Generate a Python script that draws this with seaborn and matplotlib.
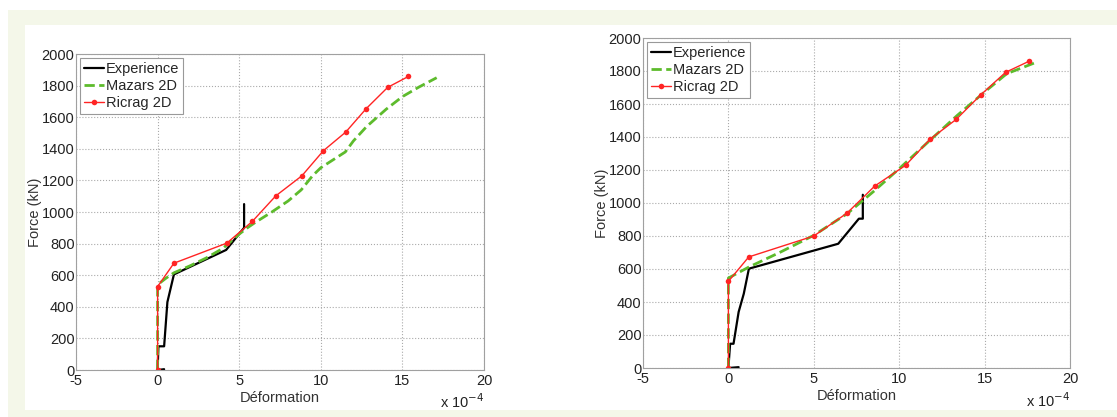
import numpy as np
import pandas as pd
import seaborn as sns
import matplotlib.pyplot as plt
from matplotlib.patches import Rectangle

# courbes force / deformation (deformation en unites de 1e-4)
exp_left_x = [0.4, 0.0, 0.05, 0.4, 0.6, 1.0, 4.2, 5.3, 5.3]
exp_left_y = [5, 0, 150, 150, 430, 605, 760, 900, 1050]
maz_left_x = [0.0, 0.0, 0.5, 1.0, 2.0, 3.0, 4.0, 5.0, 5.5, 6.0, 7.0, 8.0, 8.8, 9.5, 10.0, 11.5, 12.0, 12.8, 14.0, 15.0, 16.0, 17.1]
maz_left_y = [0, 540, 580, 615, 660, 710, 770, 860, 900, 935, 1000, 1070, 1140, 1230, 1280, 1380, 1450, 1540, 1650, 1730, 1790, 1850]
ric_left_x = [0.0, 0.0, 1.0, 4.24, 5.8, 7.24, 8.84, 10.16, 11.53, 12.78, 14.1, 15.37]
ric_left_y = [0, 528, 676, 803, 940, 1102, 1229, 1388, 1506, 1654, 1789, 1858]

exp_right_x = [0.6, 0.0, 0.1, 0.3, 0.6, 0.9, 1.2, 6.43, 7.64, 7.87, 7.87]
exp_right_y = [5, 0, 147, 147, 340, 450, 602, 753, 905, 905, 1050]
maz_right_x = [0.0, 0.0, 1.2, 3.0, 5.0, 6.95, 8.5, 10.0, 11.8, 13.4, 15.0, 16.3, 17.9]
maz_right_y = [0, 545, 612, 700, 804, 935, 1070, 1208, 1380, 1531, 1673, 1784, 1848]
ric_right_x = [0.0, 0.0, 1.19, 5.0, 6.95, 8.57, 10.37, 11.8, 13.34, 14.77, 16.23, 17.6]
ric_right_y = [0, 525, 673, 800, 939, 1103, 1228, 1386, 1507, 1655, 1792, 1859]

xticks = [-5, 0, 5, 10, 15, 20]
yticks = list(range(0, 2001, 200))

sns.set_style('white')
plt.rcParams['font.family'] = ['Liberation Sans', 'DejaVu Sans']
plt.rcParams['axes.unicode_minus'] = False
fs = 10.5

fig = plt.figure(figsize=(11.17, 4.17), dpi=100)
fig.patch.set_facecolor('white')
W, H = 1117, 417
# cadre creme autour de la figure (derriere les axes)
fig.patches.append(Rectangle((8 / W, 0), 1, 407 / H, transform=fig.transFigure,
                             facecolor='#f4f7e9', edgecolor='none', zorder=-10))
fig.patches.append(Rectangle((25 / W, 7 / H), 1, 385 / H, transform=fig.transFigure,
                             facecolor='white', edgecolor='none', zorder=-9))

ax1 = fig.add_axes([76 / W, 1 - 370 / H, 408 / W, 316 / H])
ax2 = fig.add_axes([643 / W, 1 - 368 / H, 427 / W, 330 / H])

panels = [
    (ax1, exp_left_x, exp_left_y, maz_left_x, maz_left_y, ric_left_x, ric_left_y, -0.07),
    (ax2, exp_right_x, exp_right_y, maz_right_x, maz_right_y, ric_right_x, ric_right_y, -0.072),
]

for ax, ex, ey, mx, my, rx, ry, off in panels:
    sns.lineplot(x=ex, y=ey, sort=False, estimator=None, ax=ax, color='black',
                 lw=1.6, label='Experience')
    sns.lineplot(x=mx, y=my, sort=False, estimator=None, ax=ax, color='#5dbb2c',
                 lw=2, linestyle='--', label='Mazars 2D')
    sns.lineplot(x=rx, y=ry, sort=False, estimator=None, ax=ax, color='#ff2424',
                 lw=1, marker='o', markersize=4, markeredgewidth=0, label='Ricrag 2D')
    ax.set_xlim(-5, 20)
    ax.set_ylim(0, 2000)
    ax.set_xticks(xticks)
    ax.set_yticks(yticks)
    ax.grid(True, linestyle=':', color='#aaaaaa', lw=0.8)
    for s in ax.spines.values():
        s.set_color('#a0a0a0')
        s.set_linewidth(0.8)
    ax.tick_params(direction='in', length=3, color='#a0a0a0', labelcolor='#222222',
                   labelsize=fs)
    ax.tick_params(axis='x', pad=3)
    ax.tick_params(axis='y', pad=1)
    ax.set_xlabel('Déformation', color='#333333', fontsize=fs, labelpad=2)
    ax.set_ylabel('Force (kN)', color='#333333', fontsize=fs, labelpad=0)
    leg = ax.legend(loc='upper left', fontsize=fs, frameon=True, fancybox=False,
                    handlelength=1.4, handletextpad=0.1, labelspacing=0.2,
                    borderpad=0.25, borderaxespad=0.3, framealpha=1)
    leg.get_frame().set_edgecolor('#999999')
    leg.get_frame().set_linewidth(0.8)
    ax.text(1.0, off, r'x 10$^{-4}$', transform=ax.transAxes, ha='right', va='top',
            fontsize=fs, color='#222222')

fig.savefig('out.png', dpi=100)
